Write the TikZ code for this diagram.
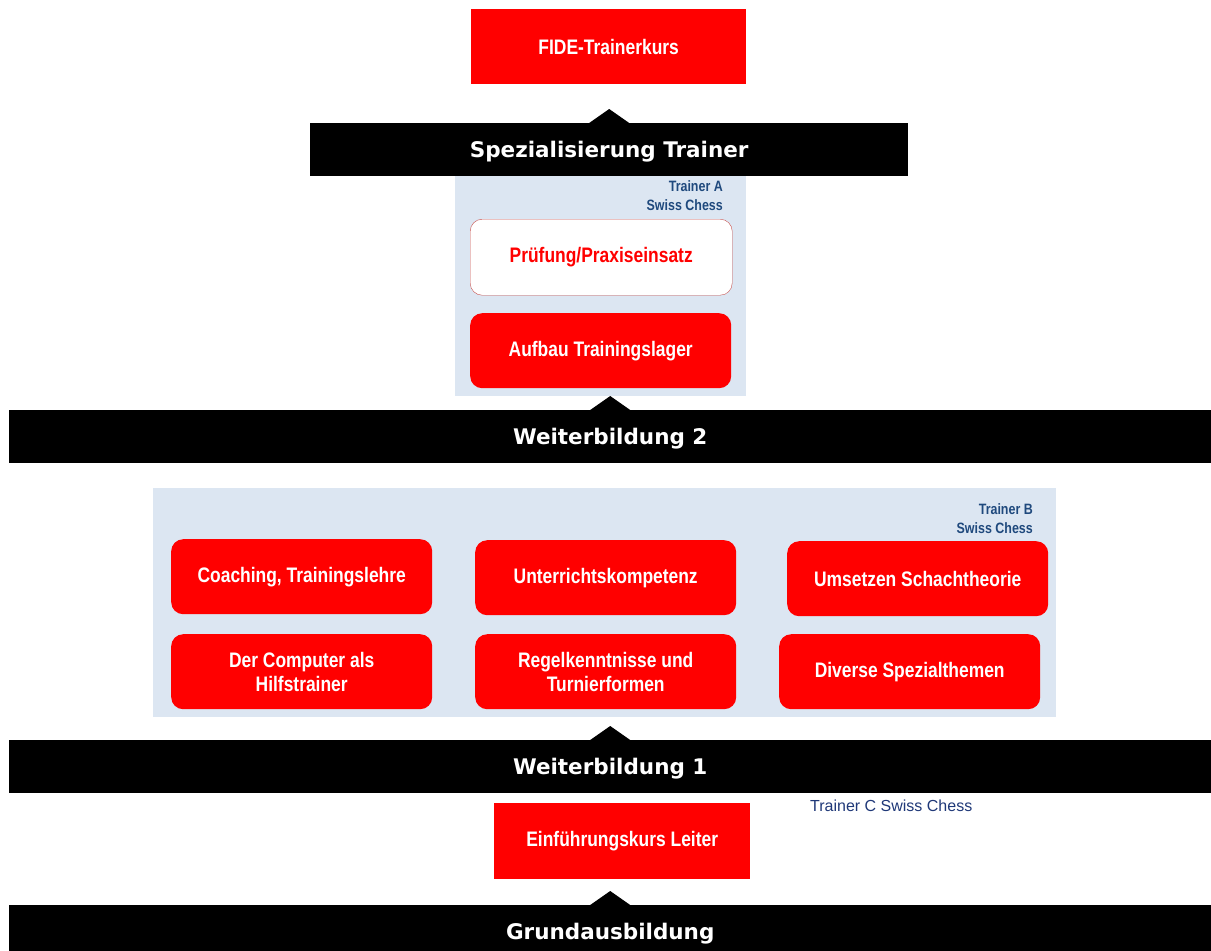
\documentclass[tikz,border=0pt]{standalone}
\usepackage{fontspec}
\setmainfont{Liberation Sans}
\newfontfamily\narrowfont[FakeStretch=0.83]{Liberation Sans}
\newfontfamily\barfont{DejaVu Sans}
\usetikzlibrary{positioning, calc}
\definecolor{kursred}{RGB}{255,0,0}
\definecolor{panelblue}{RGB}{220,230,242}
\definecolor{labelblue}{RGB}{31,73,125}
\definecolor{navyblue}{RGB}{31,56,120}
\definecolor{borderred}{RGB}{200,80,77}

\begin{document}
\begin{tikzpicture}[x=1pt, y=-1pt]
	\tikzstyle{kurs}=[rectangle, fill=kursred, text=white, minimum width=257pt, minimum height=75pt, align=center, font=\narrowfont\bfseries\fontsize{21}{24}\selectfont, anchor=north west]
	\tikzstyle{modul}=[kurs, rounded corners=12pt, minimum width=261pt]
	\tikzstyle{stufe}=[rectangle, fill=black, text=white, minimum height=53pt, text height=19pt, text depth=3pt, font=\barfont\bfseries\fontsize{21.5}{24}\selectfont, anchor=north west, inner sep=0pt]
	\tikzstyle{panel}=[rectangle, fill=panelblue, anchor=north west, inner sep=0pt]
	\tikzstyle{trainer}=[text=labelblue, align=right, anchor=north east, inner sep=0pt, font=\narrowfont\bfseries\fontsize{15}{19}\selectfont]

	\useasboundingbox (0,0) rectangle (1211,951);

	% panels
	\node[panel, minimum width=291pt, minimum height=220pt] (panelA) at (455,176) {};
	\node[panel, minimum width=903pt, minimum height=229pt] (panelB) at (153,488) {};
	\node[trainer] (trainerA) at (723,180) {Trainer A\\Swiss Chess};
	\node[trainer] (trainerB) at (1033,503) {Trainer B\\Swiss Chess};

	% stufen
	\node[stufe, minimum width=598pt] (spez) at (310,123) {Spezialisierung Trainer};
	\node[stufe, minimum width=1202pt] (wb2) at (9,410) {Weiterbildung 2};
	\node[stufe, minimum width=1202pt] (wb1) at (9,740) {Weiterbildung 1};
	\node[stufe, minimum width=1202pt] (grund) at (9,905) {Grundausbildung};

	% triangles on the bars
	\foreach \s in {spez, wb1, wb2, grund}{
		\fill ($(\s.north west)!0.5!(\s.north east)$) ++(-20,0) -- ++(20,-14) -- ++(20,14) -- cycle;
	}

	% kurse
	\node[kurs, minimum width=275pt] (fide) at (471,9) {FIDE-Trainerkurs};
	\node[modul, fill=white, draw=borderred, text=kursred, minimum width=262pt, minimum height=76pt] (pruefung) at (470,219) {Prüfung/Praxiseinsatz};
	\node[modul] (aufbau) at (470,313) {Aufbau Trainingslager};

	\node[modul] (coaching) at (171,539) {Coaching, Trainingslehre};
	\node[modul] (unterricht) at (475,540) {Unterrichtskompetenz};
	\node[modul] (umsetzen) at (787,541) {Umsetzen Schachtheorie};
	\node[modul] (computer) at (171,634) {Der Computer als\\Hilfstrainer};
	\node[modul] (regel) at (475,634) {Regelkenntnisse und\\Turnierformen};
	\node[modul] (diverse) at (779,634) {Diverse Spezialthemen};

	\node[kurs, minimum width=256pt, minimum height=76pt] (einf) at (494,803) {Einführungskurs Leiter};
	\node[anchor=north west, inner sep=0pt, text=navyblue, font=\fontsize{16}{18}\selectfont] (trainerC) at (810,800) {Trainer C Swiss Chess};
\end{tikzpicture}
\end{document}
